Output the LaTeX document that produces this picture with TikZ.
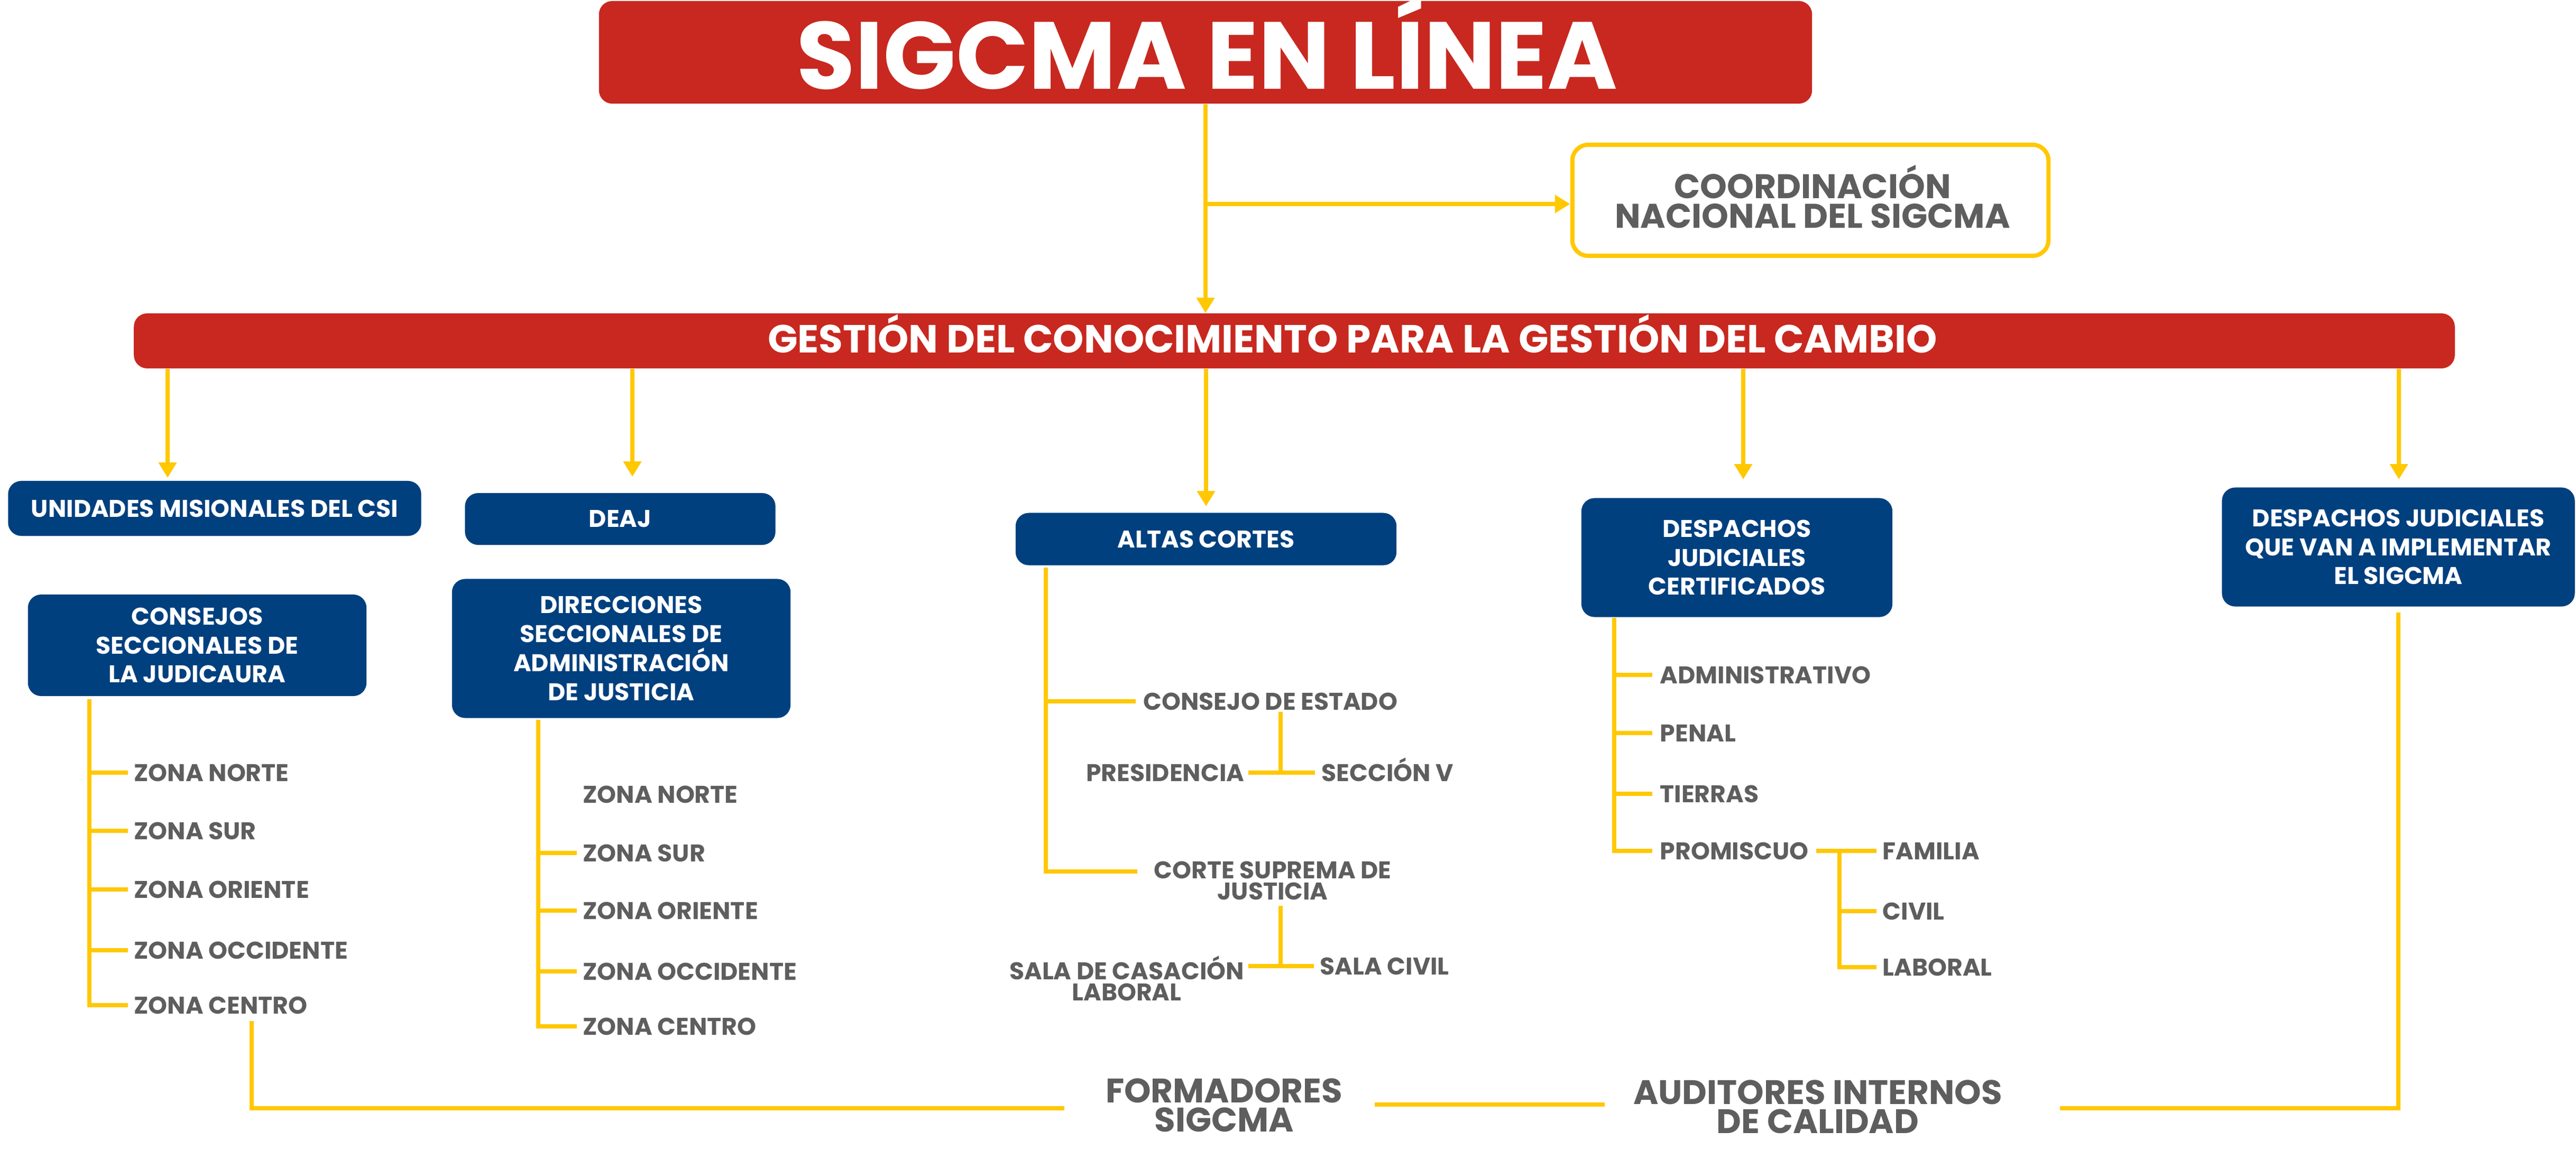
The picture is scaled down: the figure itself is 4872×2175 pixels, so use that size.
\documentclass[tikz,border=0pt]{standalone}
\usepackage{fontspec}
\setmainfont{Poppins}
\usetikzlibrary{arrows.meta}
\definecolor{sred}{HTML}{C8281F}
\definecolor{sblue}{HTML}{00407E}
\definecolor{syel}{HTML}{FFC800}
\definecolor{sgray}{HTML}{5E5E5E}
\begin{document}
\begin{tikzpicture}[x=0.01cm,y=-0.01cm,
 ln/.style={draw=syel,line width=0.075cm},
 arr/.style={ln,-{Triangle[width=0.33cm,length=0.29cm]}},
 bluebox/.style={fill=sblue,rounded corners=0.25cm,text=white,font=\fontsize{13}{15.6}\selectfont\bfseries,align=center,inner sep=0pt},
 lab/.style={text=sgray,font=\fontsize{13}{15.6}\selectfont\bfseries,inner sep=0pt,text height=9.1pt,text depth=0pt,anchor=west},
 mlab/.style={text=sgray,font=\fontsize{13}{11.3}\selectfont\bfseries,inner sep=0pt,align=center},
 big/.style={text=sgray,font=\fontsize{18.3}{15.6}\selectfont\bfseries,inner sep=0pt,align=center},
]
\useasboundingbox (0,0) rectangle (4872,2175);
% title
\node[fill=sred,rounded corners=0.25cm,minimum width=22.93cm,minimum height=1.94cm,inner sep=0pt] (title) at (2280,99) {};
\node[text=white,font=\fontsize{51.3}{52}\selectfont\bfseries,inner sep=0pt,text height=35.9pt,text depth=0pt] (titletxt) at (2283,105) {SIGCMA EN LÍNEA};
% coordination
\node[draw=syel,line width=0.08cm,fill=white,rounded corners=0.3cm,minimum width=9.0cm,minimum height=2.1cm,inner sep=0pt] (coord) at (3424,379) {};
\node[text=sgray,font=\fontsize{18.4}{16}\selectfont\bfseries,align=center,inner sep=0pt] (coordtxt) at (3428,372) {COORDINACIÓN\\NACIONAL DEL SIGCMA};
% gestion bar
\node[fill=sred,rounded corners=0.25cm,minimum width=43.87cm,minimum height=1.04cm,inner sep=0pt] (gest) at (2448,645) {};
\node[text=white,font=\fontsize{21.1}{22}\selectfont\bfseries,inner sep=0pt,text height=14.8pt,text depth=0pt] (gesttxt) at (2558,641) {GESTIÓN DEL CONOCIMIENTO PARA LA GESTIÓN DEL CAMBIO};
\draw[arr] (title.south) -- (title.south |- gest.north);
\coordinate (j1) at (2280,386);
\draw[arr] (j1) -- (coord.west |- j1);
% level 2
\node[bluebox,minimum width=7.81cm,minimum height=1.04cm] (umc) at (406,962) {UNIDADES MISIONALES DEL CSI};
\node[bluebox,minimum width=5.87cm,minimum height=0.98cm] (deaj) at (1173,982) {DEAJ};
\node[bluebox,minimum width=7.20cm,minimum height=0.99cm] (altas) at (2281,1020) {ALTAS CORTES};
\node[bluebox,minimum width=5.88cm,minimum height=2.25cm] (dcert) at (3285,1055) {DESPACHOS\\JUDICIALES\\CERTIFICADOS};
\node[bluebox,minimum width=6.67cm,minimum height=2.25cm] (dimpl) at (4536,1035) {DESPACHOS JUDICIALES\\QUE VAN A IMPLEMENTAR\\EL SIGCMA};
\node[bluebox,minimum width=6.40cm,minimum height=1.92cm] (cons) at (373,1221) {CONSEJOS\\SECCIONALES DE\\LA JUDICAURA};
\node[bluebox,minimum width=6.40cm,minimum height=2.63cm] (dir) at (1175,1227) {DIRECCIONES\\SECCIONALES DE\\ADMINISTRACIÓN\\DE JUSTICIA};
\coordinate (a1) at (317,904);
\coordinate (a2) at (1196,902);
\coordinate (a3) at (2281,958);
\coordinate (a4) at (3297,907);
\coordinate (a5) at (4537,907);
\foreach \a in {a1,a2,a3,a4,a5}{\draw[arr] (\a |- gest.south) -- (\a);}
% consejos
\coordinate (cv) at (169,1323);
\node[lab] (c1) at (253,1462) {ZONA NORTE};
\node[lab] (c2) at (253,1572) {ZONA SUR};
\node[lab] (c3) at (253,1683) {ZONA ORIENTE};
\node[lab] (c4) at (253,1798) {ZONA OCCIDENTE};
\node[lab] (c5) at (253,1902) {ZONA CENTRO};
\foreach \n in {c1,c2,c3,c4,c5}{\draw[ln] (cv) |- ([xshift=-3pt]\n.west);}
% direcciones
\coordinate (dv) at (1018,1362);
\node[lab] (d1) at (1102,1503) {ZONA NORTE};
\node[lab] (d2) at (1102,1614) {ZONA SUR};
\node[lab] (d3) at (1102,1723) {ZONA ORIENTE};
\node[lab] (d4) at (1102,1838) {ZONA OCCIDENTE};
\node[lab] (d5) at (1102,1942) {ZONA CENTRO};
\foreach \n in {d2,d3,d4,d5}{\draw[ln] (dv) |- ([xshift=-3pt]\n.west);}
% altas cortes
\coordinate (av) at (1978,1074);
\node[lab] (ce) at (2162,1327) {CONSEJO DE ESTADO};
\draw[ln] (av) |- ([xshift=-4pt]ce.west);
\node[mlab] (csj) at (2407,1666) {CORTE SUPREMA DE\\JUSTICIA};
\coordinate (csjin) at (2151,1649);
\draw[ln] (av) |- (csjin);
\node[lab,anchor=east] (pres) at (2354,1462) {PRESIDENCIA};
\node[lab] (sec) at (2499,1462) {SECCIÓN V};
\coordinate (cev) at (2422,1347);
\draw[ln] (cev) -- (cev |- sec.west);
\draw[ln] ([xshift=2pt]pres.east) -- ([xshift=-3.5pt]sec.west);
\node[mlab] (scl) at (2131,1851) {SALA DE CASACIÓN\\LABORAL};
\node[lab] (sc) at (2496,1828) {SALA CIVIL};
\coordinate (csjv) at (2422,1714);
\draw[ln] (csjv) -- (csjv |- sc.west);
\coordinate (sclout) at (2361,1828);
\draw[ln] (sclout) -- ([xshift=-3pt]sc.west);
% despachos certificados
\coordinate (dcv) at (3053,1169);
\node[lab] (e1) at (3139,1277) {ADMINISTRATIVO};
\node[lab] (e2) at (3139,1387) {PENAL};
\node[lab] (e3) at (3139,1502) {TIERRAS};
\node[lab] (e4) at (3139,1610) {PROMISCUO};
\foreach \n in {e1,e2,e3,e4}{\draw[ln] (dcv) |- ([xshift=-4pt]\n.west);}
\node[lab] (f1) at (3560,1610) {FAMILIA};
\node[lab] (f2) at (3560,1724) {CIVIL};
\node[lab] (f3) at (3560,1830) {LABORAL};
\draw[ln] ([xshift=4pt]e4.east) -- ([xshift=-3pt]f1.west);
\coordinate (pv) at (3479,1610);
\foreach \n in {f2,f3}{\draw[ln] (pv) |- ([xshift=-3pt]\n.west);}
% bottom
\node[big] (form) at (2315,2091) {FORMADORES\\SIGCMA};
\node[big] (aud) at (3438,2094) {AUDITORES INTERNOS\\DE CALIDAD};
\coordinate (zcv) at (476,1932);
\coordinate (fl) at (2013,2097);
\draw[ln] (zcv) |- (fl);
\coordinate (m1) at (2600,2090);
\coordinate (m2) at (3035,2090);
\draw[ln] (m1) -- (m2);
\coordinate (r1) at (3896,2097);
\draw[ln] (r1) -| ([yshift=-3pt]dimpl.south);
\end{tikzpicture}
\end{document}
